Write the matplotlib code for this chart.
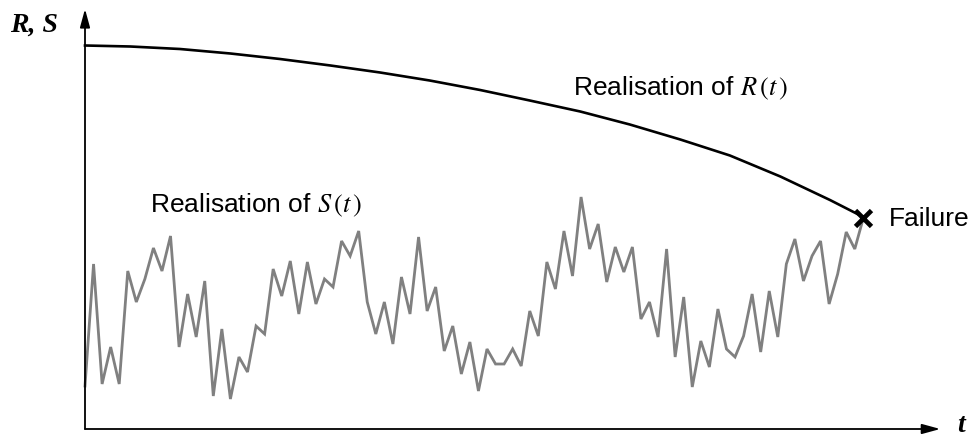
import matplotlib
matplotlib.use('Agg')
import matplotlib.pyplot as plt

# S(t) realisation: one value per time step (height above the t axis)
s_vals = [43, 165, 45, 82, 45, 158, 127, 150, 181, 158, 193, 82, 135, 92, 148,
          33, 100, 30, 72, 57, 103, 95, 160, 133, 168, 115, 167, 125, 150, 142,
          188, 173, 198, 127, 95,
          127, 85, 152, 115, 192, 118, 142, 78, 103, 55, 87, 38, 80, 65, 65,
          80, 63, 118, 93, 167, 140, 198, 153, 232, 180, 205, 147, 182, 157,
          182, 110, 127, 92, 180,
          72, 132, 42, 88, 62, 120, 80, 72, 93, 135, 77, 138, 92, 165, 190,
          148, 173, 188, 125, 155, 197, 180, 211]
s_t = list(range(len(s_vals)))

# R(t) realisation, read at a number of time points
r_t = [0, 5.3, 11.1, 17.0, 22.8, 28.7, 34.5, 40.3, 46.2, 52.0, 57.9, 63.7,
       69.6, 75.4, 81.3, 87.1, 91]
r_vals = [383.5, 382.5, 380, 375.5, 370, 363.5, 356.5, 348.5, 339, 328.5,
          317.5, 304.5, 289.5, 273.5, 252.5, 229, 212]

fail_t = 91
fail_val = 211.5

plt.rcParams['mathtext.fontset'] = 'stix'

fig = plt.figure(figsize=(9.72, 4.39), dpi=100)
ax = fig.add_axes([0, 0, 1, 1])
step = 8.553
ax.set_xlim(-85 / step, (972 - 85) / step)
ax.set_ylim(-9, 430)
ax.axis('off')

# axes with arrows
arrow = dict(arrowstyle='-|>,head_length=1.1,head_width=0.3', mutation_scale=10,
             lw=1.3, color='black', shrinkA=0, shrinkB=0)
ax.annotate('', xy=(100, 0), xytext=(0, 0), arrowprops=arrow)
ax.annotate('', xy=(0, 420), xytext=(0, 0), arrowprops=arrow)

ax.plot(s_t, s_vals, color='#808080', lw=2.0, solid_joinstyle='miter')
ax.plot(r_t, r_vals, color='black', lw=1.9, solid_joinstyle='round')
ax.plot([fail_t], [fail_val], marker='x', color='black', ms=12, mew=3.4)

serif = 'Liberation Serif'
sans = 'Liberation Sans'
ax.text(-75 / step, 398, 'R, S', fontsize=20, family=serif, weight='bold',
        style='italic', va='baseline', ha='left')
ax.text((957 - 85) / step, -2, 't', fontsize=20, family=serif, weight='bold',
        style='italic', va='baseline', ha='left')

ax.text((573 - 85) / step, 335, r'Realisation of $R\,(t\,)$', fontsize=19,
        family=sans, va='baseline', ha='left')
ax.text((150 - 85) / step, 218, r'Realisation of $S\,(t\,)$', fontsize=19,
        family=sans, va='baseline', ha='left')
ax.text((889 - 85) / step, 204, 'Failure', fontsize=19,
        family=sans, va='baseline', ha='left')

fig.savefig('out.png', dpi=100)
